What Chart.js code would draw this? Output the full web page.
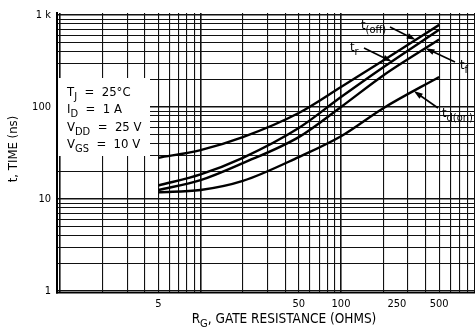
<!DOCTYPE html>
<html>
<head>
<meta charset="utf-8">
<script src="https://cdn.jsdelivr.net/npm/chart.js@4.4.1/dist/chart.umd.min.js"></script>
<style>
  html, body { margin: 0; padding: 0; background: #fff; }
</style>
</head>
<body>
<canvas id="chart" width="475" height="330"></canvas>
<script>
// values (log-log)
const gateResistance = [5, 10, 20, 50, 100, 200, 500]
const tOff = [28, 34, 47, 86, 165, 320, 780]
const tRise = [14, 18.5, 28, 59, 128, 270, 690]
const tFall = [12.5, 16, 24.5, 47, 100, 220, 540]
const tdOn = [11.8, 12.5, 15.7, 28.5, 48, 97, 212]

const xLabelValues = [5, 50, 100, 250, 500]
const yLabelText = { 1: '1', 10: '10', 100: '100', 1000: '1 k' }
const conditions = [
  ['T', 'J', '  =  25°C'],
  ['I', 'D', '  =  1 A'],
  ['V', 'DD', '  =  25 V'],
  ['V', 'GS', '  =  10 V'],
]

const FONT = '"Liberation Sans Narrow", "DejaVu Sans Condensed", Arial, sans-serif'

// grid lines at every 1..9 of each decade
const xTicks = []
for (const d of [1, 10, 100]) for (let m = 1; m <= 9; m++) xTicks.push(m * d)
xTicks.push(250)
const yTicks = [1000]
for (const d of [1, 10, 100]) for (let m = 1; m <= 9; m++) yTicks.push(m * d)

const isDecade = (v) => Math.abs(Math.log10(v) - Math.round(Math.log10(v))) < 1e-9

const series = [
  { name: 'off', data: tOff },
  { name: 'r', data: tRise },
  { name: 'f', data: tFall },
  { name: 'd(on)', data: tdOn },
]

// curve labels: where the arrow hits the curve (ohms), where the text sits (px)
const callouts = [
  { idx: 0, sub: '(off)', tipR: 340, textX: 361, textY: 29, fromX: 390, fromY: 27 },
  { idx: 1, sub: 'r', tipR: 230, textX: 350, textY: 51, fromX: 364, fromY: 48 },
  { idx: 2, sub: 'f', tipR: 400, textX: 460, textY: 69, fromX: 455, fromY: 62 },
  { idx: 3, sub: 'd(on)', tipR: 330, textX: 442, textY: 117, fromX: 438, fromY: 108 },
]

function logInterp(xs, ys, x) {
  const lx = Math.log10(x)
  for (let i = 0; i < xs.length - 1; i++) {
    const a = Math.log10(xs[i]), b = Math.log10(xs[i + 1])
    if (lx >= a && lx <= b) {
      const t = (lx - a) / (b - a)
      return Math.pow(10, Math.log10(ys[i]) + t * (Math.log10(ys[i + 1]) - Math.log10(ys[i])))
    }
  }
  return ys[ys.length - 1]
}

function drawSubText(ctx, x, y, main, sub, rest, size) {
  ctx.font = size + 'px ' + FONT
  ctx.fillText(main, x, y)
  x += ctx.measureText(main).width
  ctx.font = Math.round(size * 0.82) + 'px ' + FONT
  ctx.fillText(sub, x, y + size * 0.3)
  x += ctx.measureText(sub).width
  if (rest) {
    ctx.font = size + 'px ' + FONT
    ctx.fillText(rest, x, y)
    x += ctx.measureText(rest).width
  }
  return x
}

function subTextWidth(ctx, main, sub, rest, size) {
  ctx.font = size + 'px ' + FONT
  let w = ctx.measureText(main).width + ctx.measureText(rest).width
  ctx.font = Math.round(size * 0.82) + 'px ' + FONT
  return w + ctx.measureText(sub).width
}

const decorations = {
  id: 'decorations',
  beforeDatasetsDraw(chart) {
    const ctx = chart.ctx
    const area = chart.chartArea
    ctx.save()
    // white condition box over the grid
    ctx.fillStyle = '#fff'
    ctx.fillRect(area.left + 1, 78, 92, 78)
    ctx.fillStyle = '#000'
    ctx.textBaseline = 'alphabetic'
    conditions.forEach((c, i) => {
      drawSubText(ctx, 67, 96 + i * 17.3, c[0], c[1], c[2], 13)
    })
    ctx.restore()
  },
  afterDraw(chart) {
    const ctx = chart.ctx
    const xs = chart.scales.x
    const ys = chart.scales.y
    ctx.save()
    ctx.fillStyle = '#000'
    ctx.strokeStyle = '#000'
    ctx.textBaseline = 'alphabetic'

    // curve callouts
    callouts.forEach((c) => {
      drawSubText(ctx, c.textX, c.textY, 't', c.sub, '', 13)
      const tx = xs.getPixelForValue(c.tipR)
      const ty = ys.getPixelForValue(logInterp(gateResistance, series[c.idx].data, c.tipR))
      const ang = Math.atan2(ty - c.fromY, tx - c.fromX)
      ctx.lineWidth = 1.6
      ctx.beginPath()
      ctx.moveTo(c.fromX, c.fromY)
      ctx.lineTo(tx - 6 * Math.cos(ang), ty - 6 * Math.sin(ang))
      ctx.stroke()
      ctx.beginPath()
      ctx.moveTo(tx, ty)
      ctx.lineTo(tx - 9 * Math.cos(ang) + 3 * Math.sin(ang), ty - 9 * Math.sin(ang) - 3 * Math.cos(ang))
      ctx.lineTo(tx - 9 * Math.cos(ang) - 3 * Math.sin(ang), ty - 9 * Math.sin(ang) + 3 * Math.cos(ang))
      ctx.closePath()
      ctx.fill()
    })

    // x axis title
    const w = subTextWidth(ctx, 'R', 'G', ', GATE RESISTANCE (OHMS)', 13.5)
    drawSubText(ctx, 284 - w / 2, 323, 'R', 'G', ', GATE RESISTANCE (OHMS)', 13.5)

    // y axis title
    ctx.translate(14, 149)
    ctx.rotate(-Math.PI / 2)
    ctx.font = '13px ' + FONT
    ctx.textAlign = 'center'
    ctx.textBaseline = 'middle'
    ctx.fillText('t, TIME (ns)', 0, 0)
    ctx.restore()
  },
}

const makeSet = (s) => ({
  label: s.name,
  data: gateResistance.map((r, i) => ({ x: r, y: s.data[i] })),
  borderColor: '#000',
  borderWidth: 2.4,
  pointRadius: 0,
  fill: false,
  cubicInterpolationMode: 'monotone',
})

const gridColor = (ctx) => (ctx.tick && ctx.tick.value === 250 ? 'rgba(0,0,0,0)' : '#111')
const gridWidth = (ctx) => (ctx.tick && isDecade(ctx.tick.value) ? 1.6 : 1.1)

new Chart(document.getElementById('chart').getContext('2d'), {
  type: 'line',
  data: { datasets: series.map(makeSet) },
  plugins: [decorations],
  options: {
    responsive: false,
    animation: false,
    devicePixelRatio: 1,
    layout: { padding: { top: 13, right: 0, left: 0, bottom: 0 } },
    plugins: { legend: { display: false }, tooltip: { enabled: false } },
    scales: {
      x: {
        type: 'logarithmic',
        min: 0.95,
        max: 900,
        afterBuildTicks: (s) => { s.ticks = xTicks.map((v) => ({ value: v })) },
        afterFit: (s) => { s.height = 37 },
        grid: { color: gridColor, lineWidth: gridWidth, drawTicks: false },
        border: { color: '#000', width: 1.5 },
        ticks: {
          autoSkip: false,
          maxRotation: 0,
          padding: 5,
          color: '#000',
          font: { family: FONT, size: 11 },
          callback: (v) => (xLabelValues.includes(v) ? String(v) : ''),
        },
      },
      y: {
        type: 'logarithmic',
        min: 0.95,
        max: 1050,
        afterBuildTicks: (s) => { s.ticks = yTicks.map((v) => ({ value: v })) },
        afterFit: (s) => { s.width = 57 },
        grid: { color: gridColor, lineWidth: gridWidth, drawTicks: false },
        border: { color: '#000', width: 2 },
        ticks: {
          autoSkip: false,
          padding: 6,
          color: '#000',
          font: { family: FONT, size: 11 },
          callback: (v) => yLabelText[v] || '',
        },
      },
    },
  },
})
</script>
</body>
</html>
